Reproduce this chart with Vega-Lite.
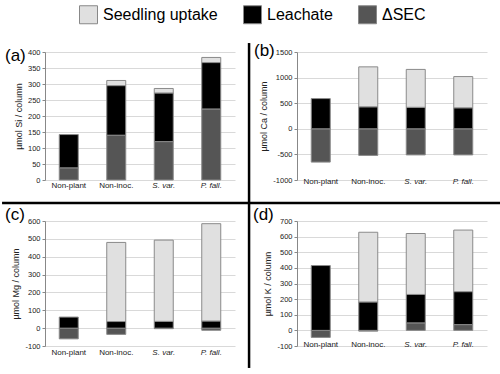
{
  "$schema": "https://vega.github.io/schema/vega-lite/v6.json",
  "padding": {"left": 0, "top": 5, "right": 0, "bottom": 0},
  "datasets": {
    "bars": [
      {"panel": "a", "cat": "Non-plant", "comp": "ΔSEC", "ord": 1, "v": 38},
      {"panel": "a", "cat": "Non-plant", "comp": "Leachate", "ord": 2, "v": 104},
      {"panel": "a", "cat": "Non-inoc.", "comp": "ΔSEC", "ord": 1, "v": 140},
      {"panel": "a", "cat": "Non-inoc.", "comp": "Leachate", "ord": 2, "v": 155},
      {"panel": "a", "cat": "Non-inoc.", "comp": "Seedling uptake", "ord": 3, "v": 16},
      {"panel": "a", "cat": "S. var.", "comp": "ΔSEC", "ord": 1, "v": 120},
      {"panel": "a", "cat": "S. var.", "comp": "Leachate", "ord": 2, "v": 152},
      {"panel": "a", "cat": "S. var.", "comp": "Seedling uptake", "ord": 3, "v": 14},
      {"panel": "a", "cat": "P. fall.", "comp": "ΔSEC", "ord": 1, "v": 222},
      {"panel": "a", "cat": "P. fall.", "comp": "Leachate", "ord": 2, "v": 145},
      {"panel": "a", "cat": "P. fall.", "comp": "Seedling uptake", "ord": 3, "v": 16},
      {"panel": "b", "cat": "Non-plant", "comp": "ΔSEC", "ord": 1, "v": -650},
      {"panel": "b", "cat": "Non-plant", "comp": "Leachate", "ord": 2, "v": 590},
      {"panel": "b", "cat": "Non-inoc.", "comp": "ΔSEC", "ord": 1, "v": -520},
      {"panel": "b", "cat": "Non-inoc.", "comp": "Leachate", "ord": 2, "v": 430},
      {"panel": "b", "cat": "Non-inoc.", "comp": "Seedling uptake", "ord": 3, "v": 780},
      {"panel": "b", "cat": "S. var.", "comp": "ΔSEC", "ord": 1, "v": -510},
      {"panel": "b", "cat": "S. var.", "comp": "Leachate", "ord": 2, "v": 420},
      {"panel": "b", "cat": "S. var.", "comp": "Seedling uptake", "ord": 3, "v": 740},
      {"panel": "b", "cat": "P. fall.", "comp": "ΔSEC", "ord": 1, "v": -510},
      {"panel": "b", "cat": "P. fall.", "comp": "Leachate", "ord": 2, "v": 410},
      {"panel": "b", "cat": "P. fall.", "comp": "Seedling uptake", "ord": 3, "v": 610},
      {"panel": "c", "cat": "Non-plant", "comp": "ΔSEC", "ord": 1, "v": -60},
      {"panel": "c", "cat": "Non-plant", "comp": "Leachate", "ord": 2, "v": 62},
      {"panel": "c", "cat": "Non-inoc.", "comp": "ΔSEC", "ord": 1, "v": -35},
      {"panel": "c", "cat": "Non-inoc.", "comp": "Leachate", "ord": 2, "v": 37},
      {"panel": "c", "cat": "Non-inoc.", "comp": "Seedling uptake", "ord": 3, "v": 443},
      {"panel": "c", "cat": "S. var.", "comp": "ΔSEC", "ord": 1, "v": -3},
      {"panel": "c", "cat": "S. var.", "comp": "Leachate", "ord": 2, "v": 38},
      {"panel": "c", "cat": "S. var.", "comp": "Seedling uptake", "ord": 3, "v": 455},
      {"panel": "c", "cat": "P. fall.", "comp": "ΔSEC", "ord": 1, "v": -12},
      {"panel": "c", "cat": "P. fall.", "comp": "Leachate", "ord": 2, "v": 40},
      {"panel": "c", "cat": "P. fall.", "comp": "Seedling uptake", "ord": 3, "v": 545},
      {"panel": "d", "cat": "Non-plant", "comp": "ΔSEC", "ord": 1, "v": -45},
      {"panel": "d", "cat": "Non-plant", "comp": "Leachate", "ord": 2, "v": 415},
      {"panel": "d", "cat": "Non-inoc.", "comp": "ΔSEC", "ord": 1, "v": -5},
      {"panel": "d", "cat": "Non-inoc.", "comp": "Leachate", "ord": 2, "v": 182},
      {"panel": "d", "cat": "Non-inoc.", "comp": "Seedling uptake", "ord": 3, "v": 446},
      {"panel": "d", "cat": "S. var.", "comp": "ΔSEC", "ord": 1, "v": 48},
      {"panel": "d", "cat": "S. var.", "comp": "Leachate", "ord": 2, "v": 182},
      {"panel": "d", "cat": "S. var.", "comp": "Seedling uptake", "ord": 3, "v": 390},
      {"panel": "d", "cat": "P. fall.", "comp": "ΔSEC", "ord": 1, "v": 37},
      {"panel": "d", "cat": "P. fall.", "comp": "Leachate", "ord": 2, "v": 211},
      {"panel": "d", "cat": "P. fall.", "comp": "Seedling uptake", "ord": 3, "v": 394}
    ],
    "one": [{"k": 1}]
  },
  "columns": 2,
  "spacing": {"row": 41, "column": 62},
  "bounds": "flush",
  "concat": [
    {
      "width": 190, "height": 128,
      "layer": [
        {
          "data": {"name": "bars"},
          "transform": [{"filter": "datum.panel === 'a'"}],
          "mark": {"type": "bar", "stroke": "#8a8a8a", "strokeWidth": 1},
          "encoding": {
            "x": {"field": "cat", "type": "nominal", "sort": ["Non-plant", "Non-inoc.", "S. var.", "P. fall."], "scale": {"paddingInner": 0.6, "paddingOuter": 0.3}, "axis": {"labelPadding": 1}},
            "y": {"field": "v", "type": "quantitative", "stack": "zero", "scale": {"domain": [0, 400], "nice": false}, "axis": {"title": "µmol Si / column", "values": [0, 50, 100, 150, 200, 250, 300, 350, 400]}},
            "color": {"field": "comp", "type": "nominal", "scale": {"domain": ["Seedling uptake", "Leachate", "ΔSEC"], "range": ["#e0e0e0", "#000000", "#555555"]}, "legend": {"orient": "top", "title": null, "direction": "horizontal"}},
            "order": {"field": "ord", "type": "quantitative"}
          }
        },
        {
          "data": {"name": "one"},
          "mark": {"type": "rule", "strokeWidth": 2.5, "color": "#000"},
          "encoding": {"x": {"datum": "Non-plant", "bandPosition": -3.01}, "x2": {"datum": "P. fall.", "bandPosition": 2.49}, "y": {"datum": -72, "axis": {"title": "µmol Si / column", "values": [0, 50, 100, 150, 200, 250, 300, 350, 400]}}}
        },
        {
          "data": {"name": "one"},
          "mark": {"type": "rule", "strokeWidth": 2.5, "color": "#000"},
          "encoding": {"x": {"datum": "P. fall.", "bandPosition": 2.49}, "y": {"datum": 428, "axis": {"title": "µmol Si / column", "values": [0, 50, 100, 150, 200, 250, 300, 350, 400]}}, "y2": {"datum": -72}}
        },
        {
          "data": {"name": "one"},
          "mark": {"type": "text", "fontSize": 17, "align": "left", "baseline": "middle", "color": "#000"},
          "encoding": {"x": {"datum": "Non-plant", "bandPosition": -2.855}, "y": {"datum": 387.5, "axis": {"title": "µmol Si / column", "values": [0, 50, 100, 150, 200, 250, 300, 350, 400]}}, "text": {"value": "(a)"}}
        }
      ]
    },
    {
      "width": 190, "height": 128,
      "layer": [
        {
          "data": {"name": "bars"},
          "transform": [{"filter": "datum.panel === 'b'"}],
          "mark": {"type": "bar", "stroke": "#8a8a8a", "strokeWidth": 1},
          "encoding": {
            "x": {"field": "cat", "type": "nominal", "sort": ["Non-plant", "Non-inoc.", "S. var.", "P. fall."], "scale": {"paddingInner": 0.6, "paddingOuter": 0.3}, "axis": {"labelPadding": -3}},
            "y": {"field": "v", "type": "quantitative", "stack": "zero", "scale": {"domain": [-1000, 1500], "nice": false}, "axis": {"title": "µmol Ca / column", "values": [-1000, -500, 0, 500, 1000, 1500]}},
            "color": {"field": "comp", "type": "nominal"},
            "order": {"field": "ord", "type": "quantitative"}
          }
        },
        {
          "data": {"name": "one"},
          "mark": {"type": "rule", "strokeWidth": 2.5, "color": "#000"},
          "encoding": {"x": {"datum": "Non-plant", "bandPosition": -3.28}, "x2": {"datum": "P. fall.", "bandPosition": 2.54}, "y": {"datum": -1449, "axis": {"title": "µmol Ca / column", "values": [-1000, -500, 0, 500, 1000, 1500]}}}
        },
        {
          "data": {"name": "one"},
          "mark": {"type": "text", "fontSize": 17, "align": "left", "baseline": "middle", "color": "#000"},
          "encoding": {"x": {"datum": "Non-plant", "bandPosition": -3.013}, "y": {"datum": 1520, "axis": {"title": "µmol Ca / column", "values": [-1000, -500, 0, 500, 1000, 1500]}}, "text": {"value": "(b)"}}
        }
      ]
    },
    {
      "width": 190, "height": 125,
      "layer": [
        {
          "data": {"name": "bars"},
          "transform": [{"filter": "datum.panel === 'c'"}],
          "mark": {"type": "bar", "stroke": "#8a8a8a", "strokeWidth": 1},
          "encoding": {
            "x": {"field": "cat", "type": "nominal", "sort": ["Non-plant", "Non-inoc.", "S. var.", "P. fall."], "scale": {"paddingInner": 0.6, "paddingOuter": 0.3}, "axis": {"labelPadding": 2}},
            "y": {"field": "v", "type": "quantitative", "stack": "zero", "scale": {"domain": [-100, 600], "nice": false}, "axis": {"title": "µmol Mg / column", "values": [-100, 0, 100, 200, 300, 400, 500, 600]}},
            "color": {"field": "comp", "type": "nominal"},
            "order": {"field": "ord", "type": "quantitative"}
          }
        },
        {
          "data": {"name": "one"},
          "mark": {"type": "rule", "strokeWidth": 2.5, "color": "#000"},
          "encoding": {"x": {"datum": "P. fall.", "bandPosition": 2.49}, "y": {"datum": 700.8, "axis": {"title": "µmol Mg / column", "values": [-100, 0, 100, 200, 300, 400, 500, 600]}}, "y2": {"datum": -223}}
        },
        {
          "data": {"name": "one"},
          "mark": {"type": "text", "fontSize": 17, "align": "left", "baseline": "middle", "color": "#000"},
          "encoding": {"x": {"datum": "Non-plant", "bandPosition": -2.855}, "y": {"datum": 634, "axis": {"title": "µmol Mg / column", "values": [-100, 0, 100, 200, 300, 400, 500, 600]}}, "text": {"value": "(c)"}}
        }
      ]
    },
    {
      "width": 190, "height": 125,
      "layer": [
        {
          "data": {"name": "bars"},
          "transform": [{"filter": "datum.panel === 'd'"}],
          "mark": {"type": "bar", "stroke": "#8a8a8a", "strokeWidth": 1},
          "encoding": {
            "x": {"field": "cat", "type": "nominal", "sort": ["Non-plant", "Non-inoc.", "S. var.", "P. fall."], "scale": {"paddingInner": 0.6, "paddingOuter": 0.3}, "axis": {"labelPadding": -6}},
            "y": {"field": "v", "type": "quantitative", "stack": "zero", "scale": {"domain": [-100, 700], "nice": false}, "axis": {"title": "µmol K / column", "values": [-100, 0, 100, 200, 300, 400, 500, 600, 700]}},
            "color": {"field": "comp", "type": "nominal"},
            "order": {"field": "ord", "type": "quantitative"}
          }
        },
        {
          "data": {"name": "one"},
          "mark": {"type": "text", "fontSize": 17, "align": "left", "baseline": "middle", "color": "#000"},
          "encoding": {"x": {"datum": "Non-plant", "bandPosition": -3.066}, "y": {"datum": 738, "axis": {"title": "µmol K / column", "values": [-100, 0, 100, 200, 300, 400, 500, 600, 700]}}, "text": {"value": "(d)"}}
        }
      ]
    }
  ],
  "config": {
    "font": "Liberation Sans",
    "view": {"stroke": null},
    "axisY": {"domainColor": "#888888", "tickColor": "#888888", "tickSize": 3, "gridColor": "#d9d9d9", "labelFontSize": 7.5, "labelColor": "#222222", "labelPadding": 2, "labelOverlap": false, "labelExpr": "datum.value + ''", "titleFontSize": 9, "titleFontWeight": "normal", "titleColor": "#222222", "titlePadding": 4},
    "axisX": {"domain": false, "ticks": false, "tickSize": 0, "title": null, "labelAngle": 0, "labelFontSize": 8, "labelColor": "#222222", "labelBaseline": "top",
      "labelFontStyle": {"condition": {"test": "datum.value === 'S. var.' || datum.value === 'P. fall.'", "value": "italic"}, "value": "normal"}},
    "legend": {"layout": {"top": {"anchor": "middle"}}, "symbolType": "square", "symbolSize": 324, "symbolStrokeColor": "#888888", "symbolStrokeWidth": 1, "labelFontSize": 16, "labelColor": "#000000", "labelOffset": 5, "columnPadding": 23, "offset": 15}
  }
}
